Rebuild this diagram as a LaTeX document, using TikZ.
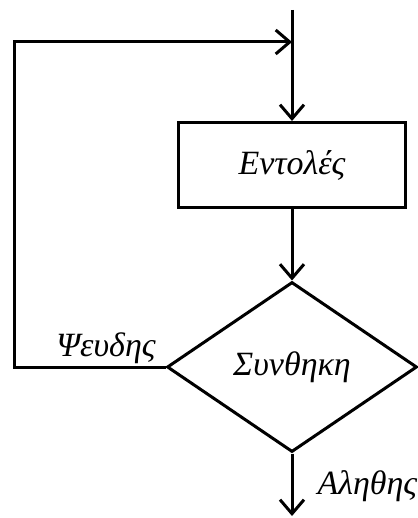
\documentclass[tikz,border=0pt]{standalone}
\usepackage{fontspec}
\setmainfont{Liberation Serif}
\usetikzlibrary{arrows.meta, shapes.geometric}

\begin{document}
\begin{tikzpicture}[
        x=1pt, y=-1pt,
        every node/.style={font=\fontsize{34}{40}\selectfont\itshape},
        block/.style={draw, line width=3pt, minimum width=227pt, minimum height=85pt, inner sep=0pt},
        decision/.style={draw, diamond, line width=3pt, minimum width=250pt, minimum height=170pt, inner sep=0pt},
        arrow/.style={-{Straight Barb[length=14pt, width=24pt, line width=3pt]}, line width=3pt}
    ]
    \useasboundingbox (0,0) rectangle (417,518);

    % Nodes
    \node[block] (entoles) at (292,165) {Εντολές};
    \node[decision] (synthiki) at (292,367) {Συνθηκη};
    \coordinate (start) at (292,10);
    \coordinate (join) at (292,42);
    \coordinate (stop) at (292,516);
    \node[anchor=base] (pseudis) at (106,356) {Ψευδης};
    \node[anchor=base west] (alithis) at (314,494) {Αληθης};

    % Arrows
    \draw[arrow] (start) -- (entoles);
    \draw[arrow] (entoles) -- (synthiki);
    \draw[arrow] (synthiki) -- (stop);
    \draw[arrow] (synthiki.west) -- (14,367) |- (join);

\end{tikzpicture}
\end{document}
